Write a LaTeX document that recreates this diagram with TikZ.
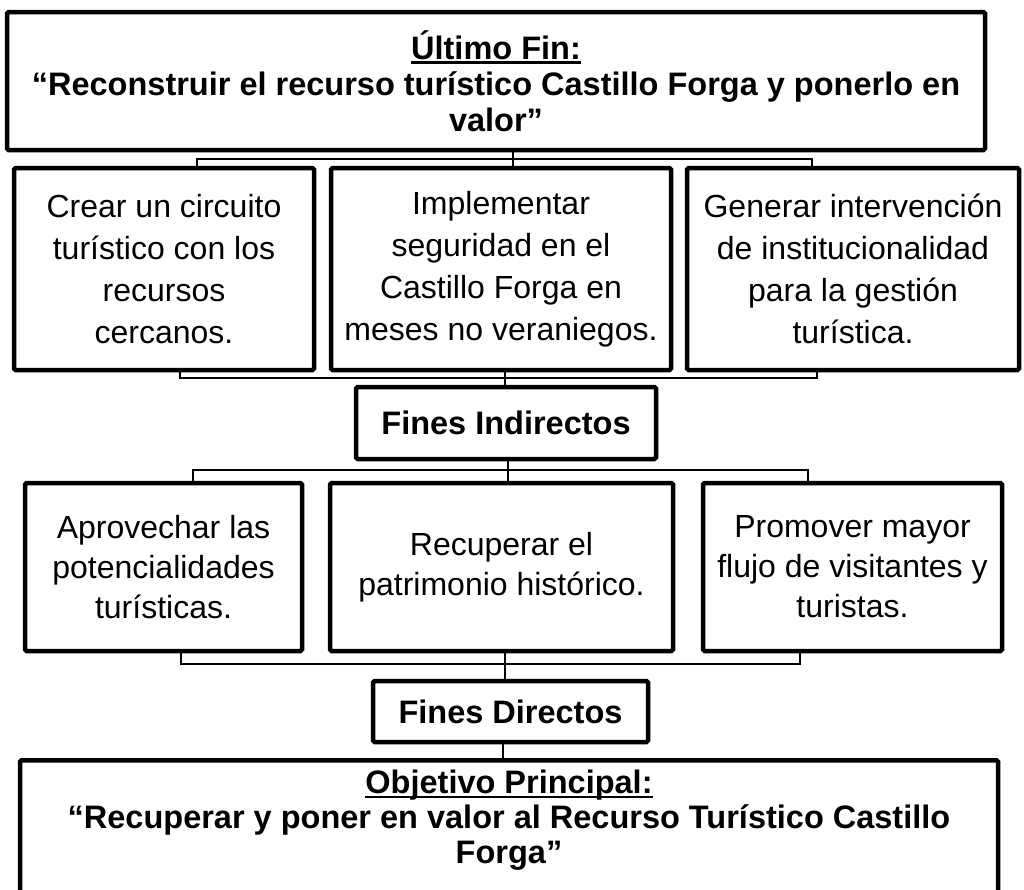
\documentclass[tikz,border=0pt]{standalone}
\usepackage{fontspec}
\setmainfont{Liberation Sans}
\newcommand\myul[1]{\setbox0\hbox{#1}\rlap{\raisebox{-4.5pt}{\rule{\wd0}{2.6pt}}}\box0}
\begin{document}
\begin{tikzpicture}[x=1pt,y=-1pt,
  box/.style={draw, line width=4.5pt, rounded corners=1.5pt, fill=white, align=center, inner sep=0pt,
    font=\fontsize{32}{40}\selectfont},
  tallbox/.style={box, font=\fontsize{32}{42}\selectfont},
  hd/.style={box, font=\bfseries\fontsize{32.5}{36}\selectfont},
  txt/.style={align=center, inner sep=0pt, font=\bfseries\fontsize{32.5}{35}\selectfont},
  link/.style={line width=1.6pt}]
\useasboundingbox (0,0) rectangle (1024,889);
% top box
\node[hd, minimum width=978, minimum height=138] (top) at (496,81)
  {\myul{Último Fin:}\\“Reconstruir el recurso turístico Castillo Forga y ponerlo en\\valor”};
% row 1
\node[tallbox, minimum width=300, minimum height=202] (a1) at (164,269)
  {Crear un circuito\\turístico con los\\recursos\\cercanos.};
\node[tallbox, minimum width=340, minimum height=202] (a2) at (501,269)
  {Implementar\\seguridad en el\\Castillo Forga en\\meses no veraniegos.};
\node[tallbox, minimum width=332, minimum height=202] (a3) at (853,269)
  {Generar intervención\\de institucionalidad\\para la gestión\\turística.};
% fines indirectos
\node[hd, minimum width=300, minimum height=72] (fi) at (506,423) {Fines Indirectos};
% row 2
\node[box, minimum width=277, minimum height=168] (b1) at (163.5,567)
  {Aprovechar las\\potencialidades\\turísticas.};
\node[box, minimum width=343, minimum height=168] (b2) at (501.5,567)
  {Recuperar el\\patrimonio histórico.};
\node[box, minimum width=299, minimum height=168] (b3) at (852.5,567)
  {Promover mayor\\flujo de visitantes y\\turistas.};
% fines directos
\node[hd, minimum width=275, minimum height=61] (fd) at (510.5,711.5) {Fines Directos};
% objetivo principal
\node[box, minimum width=978, minimum height=160, anchor=north] (obj) at (509,758) {};
\node[txt, anchor=north] (objt) at ([yshift=-12pt]obj.north)
  {\myul{Objetivo Principal:}\\“Recuperar y poner en valor al Recurso Turístico Castillo\\Forga”};
% connectors
\coordinate (l1) at (197,159); \coordinate (r1) at (812,159); \coordinate (c1) at (513,159);
\draw[link] (l1 |- a1.north) -- (l1) -- (r1) -- (r1 |- a3.north);
\draw[link] (c1 |- top.south) -- (c1 |- a2.north);
\coordinate (l2) at (180,378); \coordinate (r2) at (817,378); \coordinate (c2) at (505,378);
\draw[link] (l2 |- a1.south) -- (l2) -- (r2) -- (r2 |- a3.south);
\draw[link] (c2 |- a2.south) -- (c2 |- fi.north);
\coordinate (l3) at (193,470); \coordinate (r3) at (808,470); \coordinate (c3) at (508,470);
\draw[link] (l3 |- b1.north) -- (l3) -- (r3) -- (r3 |- b3.north);
\draw[link] (c3 |- fi.south) -- (c3 |- b2.north);
\coordinate (l4) at (181,664); \coordinate (r4) at (800,664); \coordinate (c4) at (505,664);
\draw[link] (l4 |- b1.south) -- (l4) -- (r4) -- (r4 |- b3.south);
\draw[link] (c4 |- b2.south) -- (c4 |- fd.north);
\coordinate (c5) at (503,750);
\draw[link] (c5 |- fd.south) -- (c5 |- obj.north);
\end{tikzpicture}
\end{document}
